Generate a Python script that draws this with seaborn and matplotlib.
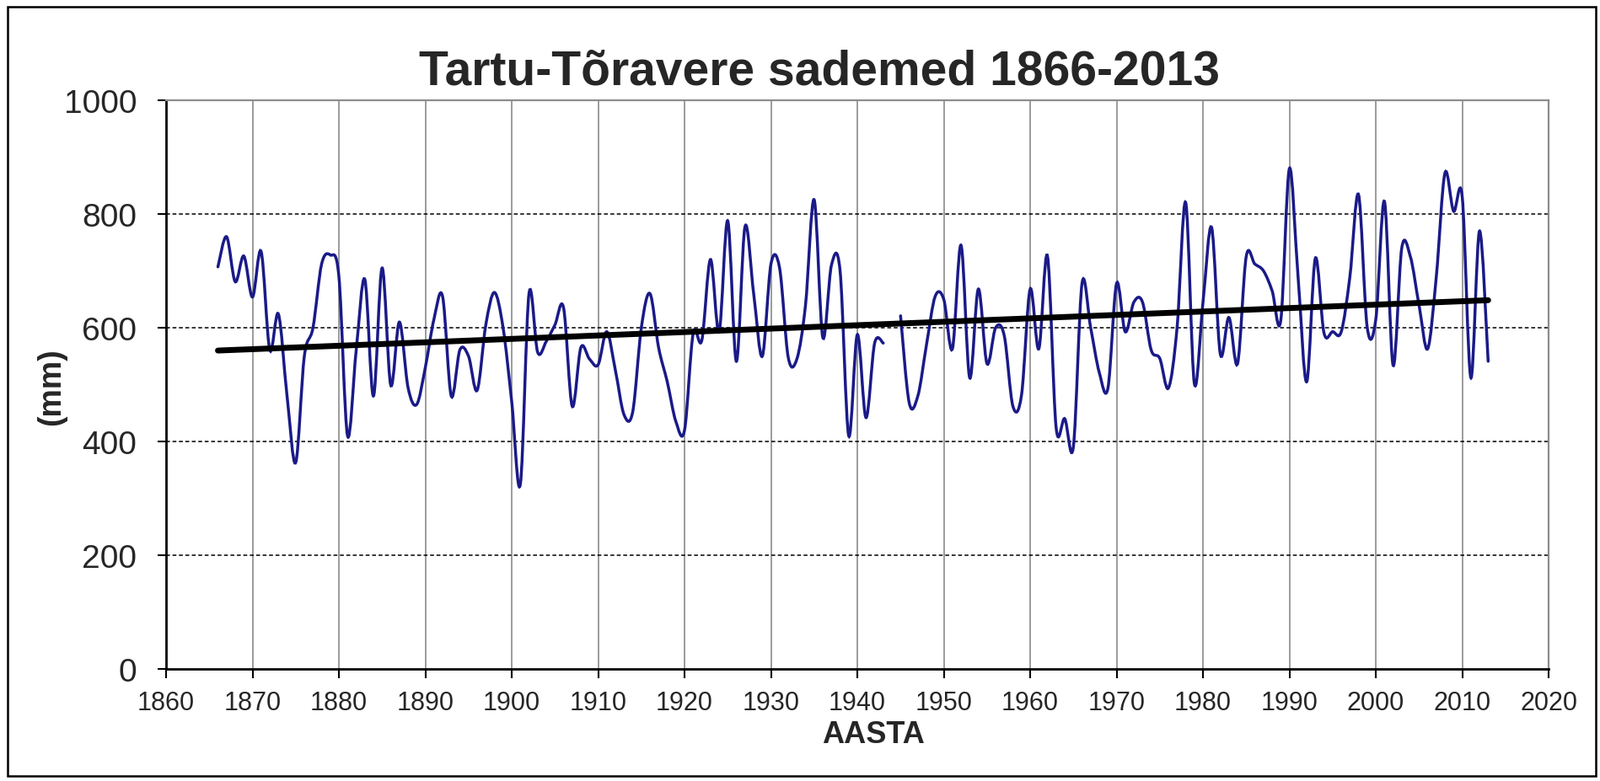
import numpy as np
import pandas as pd
import matplotlib
matplotlib.use('Agg')
import matplotlib.pyplot as plt
import seaborn as sns
from matplotlib.path import Path
from matplotlib.patches import PathPatch, Rectangle

# ---- Data ----
years = list(range(1866, 2014))
precip = [
    707, 760, 681, 726,                                          # 1866-1869
    654, 734, 561, 624, 480, 363, 550, 600, 712, 728,            # 1870s
    690, 410, 560, 685, 480, 705, 499, 610, 495, 465,            # 1880s
    530, 615, 655, 480, 561, 550, 490, 605, 662, 600,            # 1890s
    470, 325, 660, 557, 576, 605, 635, 462, 565, 545,            # 1900s
    535, 593, 525, 447, 452, 600, 660, 565, 505, 435,            # 1910s
    420, 590, 578, 720, 593, 788, 541, 778, 660, 550,            # 1920s
    712, 705, 548, 545, 640, 825, 583, 710, 700, 410,            # 1930s
    588, 442, 573, 573, np.nan, 621, 468, 480, 570, 655,         # 1940s
    650, 563, 745, 512, 668, 537, 600, 586, 462, 482,            # 1950s
    668, 563, 726, 425, 440, 391, 678, 600, 521, 494,            # 1960s
    678, 593, 645, 645, 561, 546, 494, 600, 820, 502,            # 1970s
    645, 776, 554, 618, 537, 725, 712, 700, 665, 613,            # 1980s
    880, 690, 505, 722, 591, 593, 593, 690, 834, 601,            # 1990s
    615, 822, 534, 740, 725, 640, 563, 690, 872, 805,            # 2000s
    830, 512, 770, 541,                                          # 2010-2013
]
x_ticks = list(range(1860, 2021, 10))
y_ticks = list(range(0, 1001, 200))

title = 'Tartu-Tõravere sademed 1866-2013'
x_label = 'AASTA'
y_label = '(mm)'

df = pd.DataFrame({'year': years, 'mm': precip})


# Excel style "smoothed line": cubic bezier through every point
def smooth_path(xs, ys):
    pts = np.column_stack([xs, ys]).astype(float)
    verts = [pts[0]]
    codes = [Path.MOVETO]
    n = len(pts)
    for i in range(n - 1):
        p0 = pts[i - 1] if i > 0 else pts[i]
        p1, p2 = pts[i], pts[i + 1]
        p3 = pts[i + 2] if i + 2 < n else p2
        verts += [p1 + (p2 - p0) / 6, p2 - (p3 - p1) / 6, p2]
        codes += [Path.CURVE4] * 3
    return Path(verts, codes)


# ---- Plot ----
sns.set_theme(style='white')
plt.rcParams['font.family'] = ['Liberation Sans', 'DejaVu Sans']

fig = plt.figure(figsize=(18.98, 9.28), dpi=100)
ax = fig.add_axes([0.1038, 0.1433, 0.8641, 0.7274])

# series, broken where a year is missing
seg_id = df['mm'].isna().cumsum()
for _, seg in df.dropna().groupby(seg_id[df['mm'].notna()]):
    ax.add_patch(PathPatch(smooth_path(seg['year'], seg['mm']), fill=False,
                           edgecolor='#1a1a88', lw=2.5, capstyle='round', zorder=3))

# linear trend
sns.regplot(data=df.dropna(), x='year', y='mm', scatter=False, ci=None, truncate=True,
            color='black', line_kws={'lw': 5, 'solid_capstyle': 'round', 'zorder': 4}, ax=ax)

ax.set_xlim(1860, 2020)
ax.set_ylim(0, 1000)
ax.set_xticks(x_ticks)
ax.set_yticks(y_ticks)
ax.set_xlabel('')
ax.set_ylabel('')
ax.tick_params(axis='x', direction='out', length=8, width=1.5, color='black',
               labelsize=22, pad=10, bottom=True)
ax.tick_params(axis='y', direction='out', length=7, width=1.5, color='black',
               labelsize=28, pad=18, left=True)

for xv in x_ticks[1:-1]:
    ax.axvline(xv, color='#939393', lw=1.3, zorder=1)
for yv in y_ticks[1:-1]:
    ax.axhline(yv, color='black', lw=1.1, ls=(0, (3, 2)), zorder=1)

for side in ['left', 'bottom']:
    ax.spines[side].set_color('black')
    ax.spines[side].set_linewidth(2)
for side in ['top', 'right']:
    ax.spines[side].set_color('#8c8c8c')
    ax.spines[side].set_linewidth(1.6)

fig.text(0.512, 0.892, title, ha='center', va='baseline', fontsize=41, fontweight='bold')
fig.text(0.546, 0.06, x_label, ha='center', va='center', fontsize=26, fontweight='bold')
fig.text(0.032, 0.505, y_label, ha='center', va='center', rotation=90,
         fontsize=27, fontweight='bold')

# chart area border
fig.patches.append(Rectangle((0.0047, 0.0065), 0.9926, 0.9838, transform=fig.transFigure,
                             fill=False, edgecolor='black', lw=1.8))

fig.savefig('out.png', dpi=100)
